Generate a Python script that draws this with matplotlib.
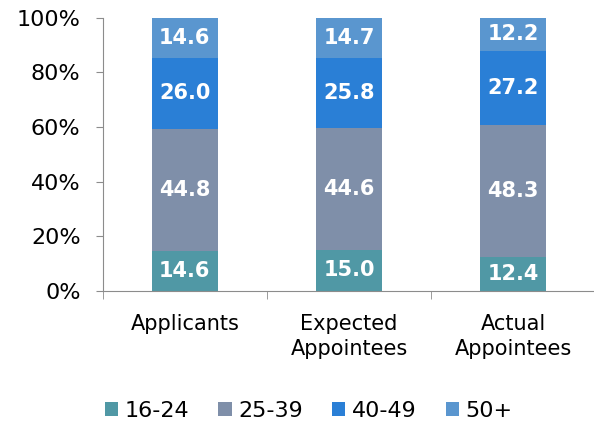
import numpy as np
import matplotlib.pyplot as plt

categories = ['Applicants', 'Expected\nAppointees', 'Actual\nAppointees']
groups = ['16-24', '25-39', '40-49', '50+']
age_16_24 = [14.6, 15.0, 12.4]
age_25_39 = [44.8, 44.6, 48.3]
age_40_49 = [26.0, 25.8, 27.2]
age_50_plus = [14.6, 14.7, 12.2]
colors = ['#5098A5', '#7F8FA9', '#2A7FD6', '#5A96CF']

plt.rcParams['font.family'] = ['DejaVu Sans']

fig = plt.figure(figsize=(5.94, 4.24), dpi=100)
ax = fig.add_axes([0.173, 0.314, 0.829, 0.644])

x = np.arange(len(categories))
bottom = np.zeros(len(categories))
series = [age_16_24, age_25_39, age_40_49, age_50_plus]
for name, vals, col in zip(groups, series, colors):
    vals = np.array(vals)
    ax.bar(x, vals, 0.4, bottom=bottom, color=col, label=name)
    for xi, b, v in zip(x, bottom, vals):
        ax.text(xi, b + v / 2, f'{v:.1f}', ha='center', va='center',
                color='white', fontsize=15, fontweight='bold')
    bottom += vals

ax.set_xlim(-0.5, 2.5)
ax.set_ylim(0, 100)
ax.set_yticks(range(0, 101, 20))
ax.set_yticklabels([f'{v}%' for v in range(0, 101, 20)], fontsize=16)
ax.set_xticks(x)
ax.set_xticklabels(categories, fontsize=15, linespacing=1.3)
ax.set_xticks([-0.5, 0.5, 1.5, 2.5], minor=True)
ax.tick_params(axis='x', which='major', length=0, pad=17)
ax.tick_params(axis='x', which='minor', length=6, color='#8c8c8c')
ax.tick_params(axis='y', length=5, color='#8c8c8c', pad=11)

for s in ['top', 'right']:
    ax.spines[s].set_visible(False)
ax.spines['left'].set_color('#8c8c8c')
ax.spines['bottom'].set_color('#8c8c8c')

fig.legend(loc='lower center', bbox_to_anchor=(0.52, -0.04), ncol=4, frameon=False,
           fontsize=16, handlelength=0.6, handleheight=0.6, handletextpad=0.3,
           columnspacing=1.3)

fig.savefig('out.png', dpi=100)
